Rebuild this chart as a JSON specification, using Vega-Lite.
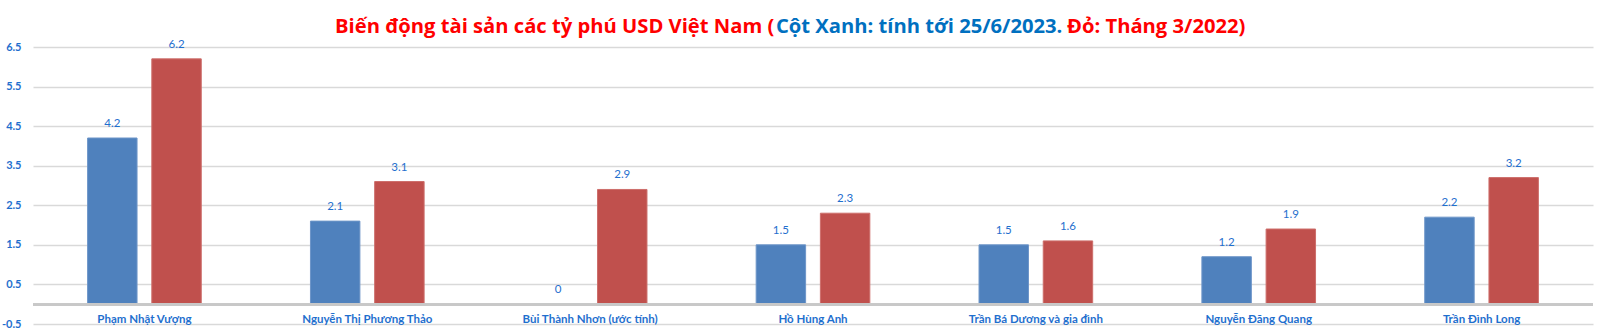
{
  "$schema": "https://vega.github.io/schema/vega-lite/v6.json",
  "autosize": "none",
  "width": 1560,
  "height": 277,
  "padding": {"left": 33, "top": 47, "right": 7, "bottom": 11},
  "background": "white",
  "config": {
    "view": {"stroke": null},
    "font": "Lato",
    "axis": {"labelFont": "Lato"}
  },
  "data": {
    "values": [
      {"ty_phu": "Phạm Nhật Vượng", "thoi_diem": "Xanh: 25/6/2023", "ty_usd": 4.2},
      {"ty_phu": "Phạm Nhật Vượng", "thoi_diem": "Đỏ: Tháng 3/2022", "ty_usd": 6.2},
      {"ty_phu": "Nguyễn Thị Phương Thảo", "thoi_diem": "Xanh: 25/6/2023", "ty_usd": 2.1},
      {"ty_phu": "Nguyễn Thị Phương Thảo", "thoi_diem": "Đỏ: Tháng 3/2022", "ty_usd": 3.1},
      {"ty_phu": "Bùi Thành Nhơn (ước tính)", "thoi_diem": "Xanh: 25/6/2023", "ty_usd": 0},
      {"ty_phu": "Bùi Thành Nhơn (ước tính)", "thoi_diem": "Đỏ: Tháng 3/2022", "ty_usd": 2.9},
      {"ty_phu": "Hồ Hùng Anh", "thoi_diem": "Xanh: 25/6/2023", "ty_usd": 1.5},
      {"ty_phu": "Hồ Hùng Anh", "thoi_diem": "Đỏ: Tháng 3/2022", "ty_usd": 2.3},
      {"ty_phu": "Trần Bá Dương và gia đình", "thoi_diem": "Xanh: 25/6/2023", "ty_usd": 1.5},
      {"ty_phu": "Trần Bá Dương và gia đình", "thoi_diem": "Đỏ: Tháng 3/2022", "ty_usd": 1.6},
      {"ty_phu": "Nguyễn Đăng Quang", "thoi_diem": "Xanh: 25/6/2023", "ty_usd": 1.2},
      {"ty_phu": "Nguyễn Đăng Quang", "thoi_diem": "Đỏ: Tháng 3/2022", "ty_usd": 1.9},
      {"ty_phu": "Trần Đình Long", "thoi_diem": "Xanh: 25/6/2023", "ty_usd": 2.2},
      {"ty_phu": "Trần Đình Long", "thoi_diem": "Đỏ: Tháng 3/2022", "ty_usd": 3.2}
    ]
  },
  "encoding": {
    "x": {
      "field": "ty_phu",
      "type": "nominal",
      "sort": null,
      "scale": {"paddingInner": 0.49, "paddingOuter": 0.245},
      "axis": {
        "title": null,
        "domain": false,
        "ticks": false,
        "labelAngle": 0,
        "labelColor": "#1f6fce",
        "labelFontSize": 11.5,
        "labelFontWeight": "bold",
        "labelBaseline": "middle",
        "labelPadding": -5
      }
    },
    "xOffset": {
      "field": "thoi_diem",
      "type": "nominal",
      "sort": ["Xanh: 25/6/2023", "Đỏ: Tháng 3/2022"],
      "scale": {"paddingInner": 0.23, "paddingOuter": 0}
    },
    "y": {
      "field": "ty_usd",
      "type": "quantitative",
      "scale": {"domain": [-0.5, 6.5], "nice": false, "zero": false},
      "axis": {
        "title": null,
        "domain": false,
        "ticks": false,
        "values": [-0.5, 0.5, 1.5, 2.5, 3.5, 4.5, 5.5, 6.5],
        "labelExpr": "'' + datum.value",
        "labelColor": "#1f6fce",
        "labelFontSize": 11,
        "labelFontWeight": "bold",
        "labelPadding": 12,
        "gridColor": "#d9d9d9",
        "gridWidth": 1.5
      }
    }
  },
  "layer": [
    {
      "mark": {"type": "bar", "strokeWidth": 1},
      "encoding": {
        "y2": {"datum": 0},
        "color": {
          "field": "thoi_diem",
          "type": "nominal",
          "sort": ["Xanh: 25/6/2023", "Đỏ: Tháng 3/2022"],
          "scale": {"range": ["#4f81bd", "#c0504d"]},
          "legend": null
        },
        "stroke": {
          "field": "thoi_diem",
          "type": "nominal",
          "sort": ["Xanh: 25/6/2023", "Đỏ: Tháng 3/2022"],
          "scale": {"range": ["#6d95c8", "#cd6e6b"]},
          "legend": null
        }
      }
    },
    {
      "mark": {"type": "rule", "color": "#c8c8c8", "strokeWidth": 2},
      "encoding": {
        "y": {"datum": 0},
        "x": null,
        "xOffset": null
      }
    },
    {
      "mark": {"type": "text", "baseline": "middle", "dy": -14, "fontSize": 11.5, "color": "#1f6fce"},
      "encoding": {
        "text": {"field": "ty_usd", "type": "quantitative"}
      }
    },
    {
      "data": {"values": [{"doan": "Biến động tài sản các tỷ phú USD Việt Nam ("}]},
      "mark": {"type": "text", "align": "left", "baseline": "alphabetic", "x": 302, "y": -14, "font": "Open Sans", "fontSize": 20.2, "fontWeight": "bold", "color": "#ff0000"},
      "encoding": {"text": {"field": "doan", "type": "nominal"}, "x": null, "y": null, "xOffset": null}
    },
    {
      "data": {"values": [{"doan": "Cột Xanh: tính tới 25/6/2023."}]},
      "mark": {"type": "text", "align": "left", "baseline": "alphabetic", "x": 743, "y": -14, "font": "Open Sans", "fontSize": 20.2, "fontWeight": "bold", "color": "#0070c0"},
      "encoding": {"text": {"field": "doan", "type": "nominal"}, "x": null, "y": null, "xOffset": null}
    },
    {
      "data": {"values": [{"doan": "Đỏ: Tháng 3/2022)"}]},
      "mark": {"type": "text", "align": "left", "baseline": "alphabetic", "x": 1034, "y": -14, "font": "Open Sans", "fontSize": 20.2, "fontWeight": "bold", "color": "#ff0000"},
      "encoding": {"text": {"field": "doan", "type": "nominal"}, "x": null, "y": null, "xOffset": null}
    }
  ]
}
